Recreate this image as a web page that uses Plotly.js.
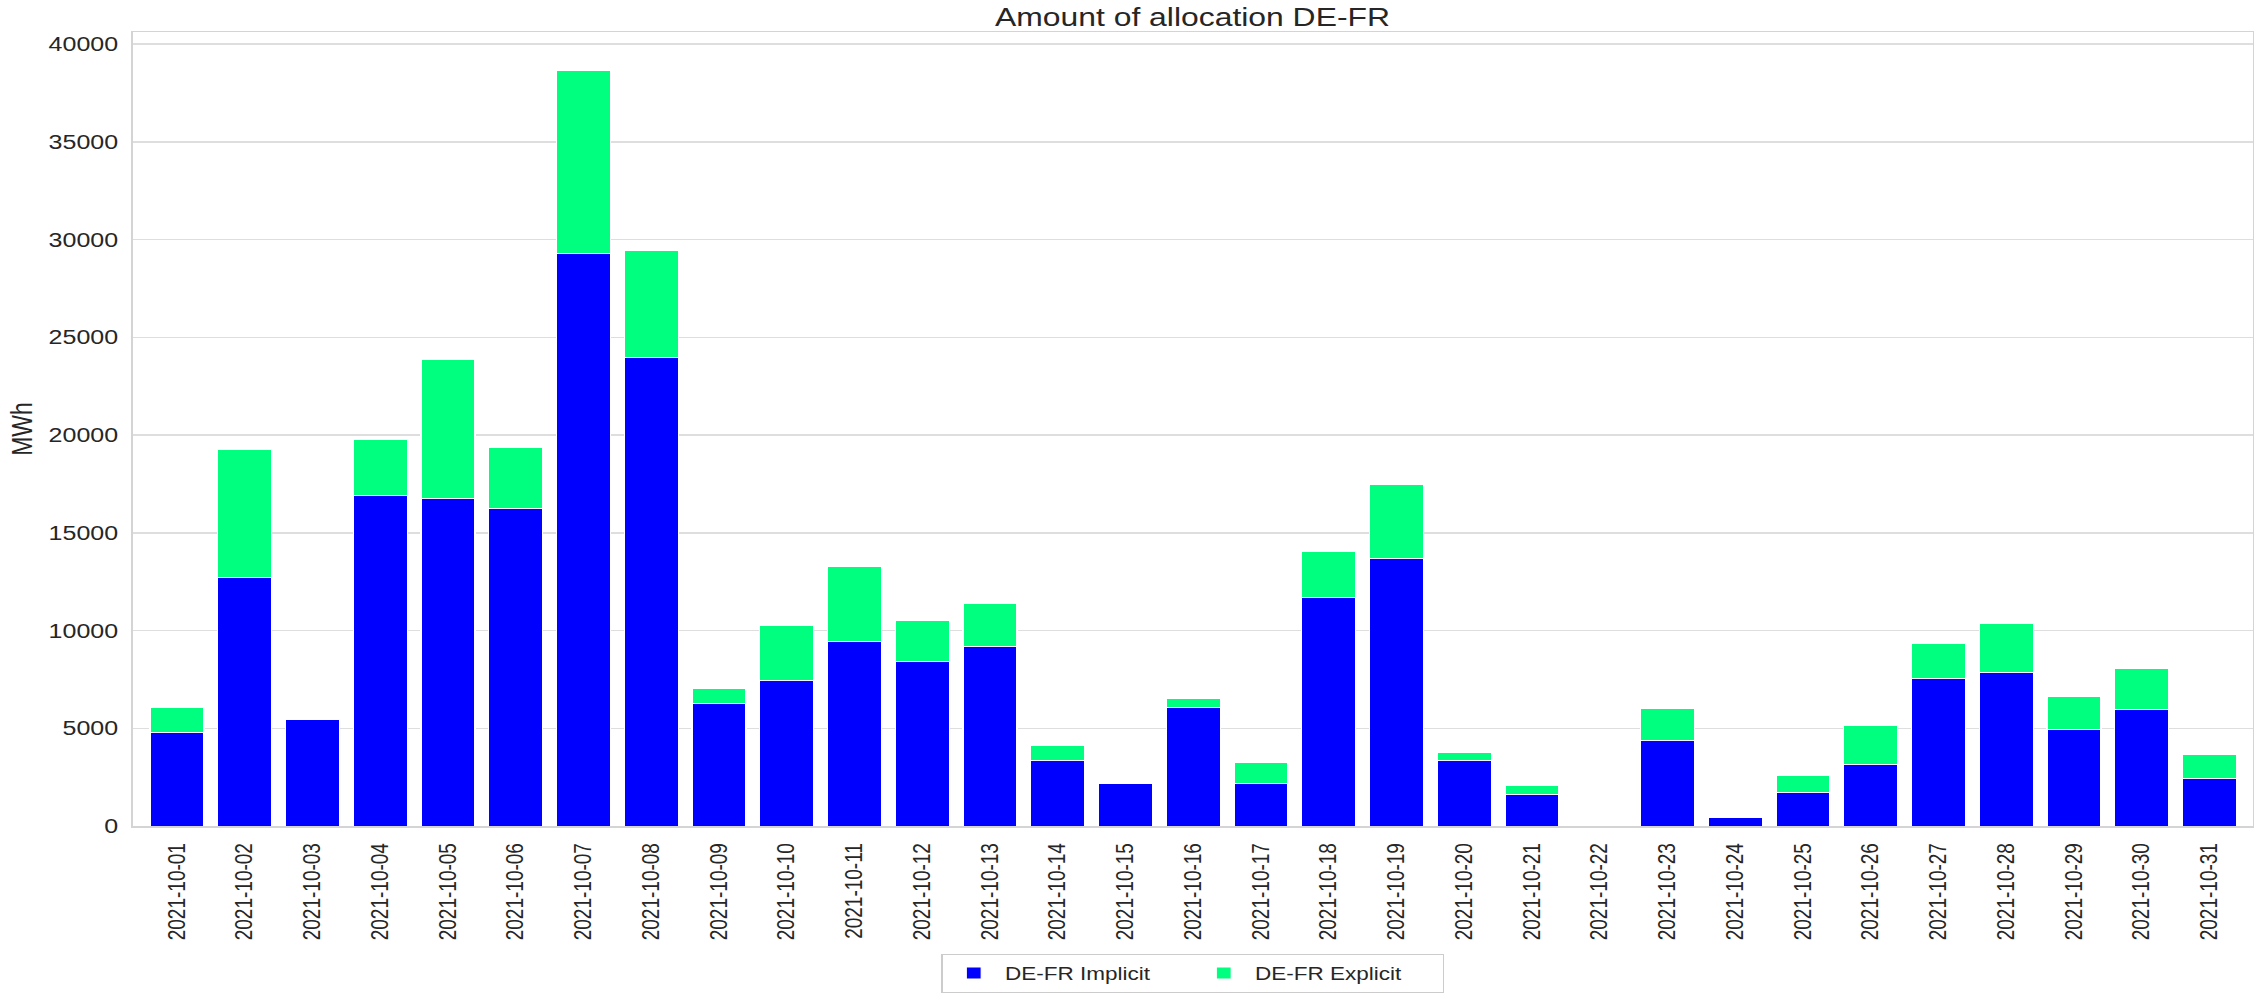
<!DOCTYPE html>
<html>
<head>
<meta charset="utf-8">
<script src="https://cdn.plot.ly/plotly-3.0.1.min.js"></script>
<style>
html,body{margin:0;padding:0;background:#fff;overflow:hidden;}
#chart{width:1807px;height:998px;transform:scaleX(1.25);transform-origin:0 0;}
</style>
</head>
<body>
<div id="chart"></div>
<script>
const dates = ["2021-10-01","2021-10-02","2021-10-03","2021-10-04","2021-10-05","2021-10-06","2021-10-07","2021-10-08","2021-10-09","2021-10-10","2021-10-11","2021-10-12","2021-10-13","2021-10-14","2021-10-15","2021-10-16","2021-10-17","2021-10-18","2021-10-19","2021-10-20","2021-10-21","2021-10-22","2021-10-23","2021-10-24","2021-10-25","2021-10-26","2021-10-27","2021-10-28","2021-10-29","2021-10-30","2021-10-31"];
const implicitMWh = [4800,12700,5450,16900,16750,16250,29300,23950,6250,7450,9450,8400,9200,3350,2150,6050,2200,11700,13700,3350,1600,0,4350,450,1700,3150,7550,7850,4950,5950,2450];
const explicitMWh = [1250,6550,0,2850,7100,3100,9360,5500,800,2800,3850,2100,2200,750,0,450,1050,2350,3750,400,450,0,1650,0,900,2000,1800,2500,1700,2100,1200];
const yTicks = [0,5000,10000,15000,20000,25000,30000,35000,40000];

const FONT = "Liberation Sans, Arial, Helvetica, sans-serif";
const TXT = "#262626";

const traces = [
  {type:"bar", name:"DE-FR Implicit", x:dates, y:implicitMWh,
   marker:{color:"#0000FF", line:{color:"#ffffff", width:1}}},
  {type:"bar", name:"DE-FR Explicit", x:dates, y:explicitMWh,
   marker:{color:"#00FF7F", line:{color:"#ffffff", width:1}}}
];

const layout = {
  width:1807, height:998,
  barmode:"stack", bargap:0.2,
  paper_bgcolor:"#ffffff", plot_bgcolor:"#ffffff",
  font:{family:FONT, color:TXT, size:18},
  margin:{l:106, r:5, t:32, b:159, pad:0},
  title:{text:"Amount of allocation DE-FR", font:{size:25.5, color:TXT, family:FONT},
         x:0.5, xref:"paper", xanchor:"center", y:0.9833, yref:"container", yanchor:"middle"},
  xaxis:{type:"category", range:[-0.657,30.635], tickangle:-90,
         tickfont:{size:19, color:TXT}, ticks:"outside", ticklen:8, tickcolor:"rgba(0,0,0,0)",
         showgrid:false, showline:true, mirror:true, linecolor:"#d4d4d4", linewidth:1.5,
         automargin:false, fixedrange:true},
  yaxis:{range:[0,40620], tickvals:yTicks, tickformat:"d",
         tickfont:{size:20, color:TXT}, ticks:"outside", ticklen:6, tickcolor:"rgba(0,0,0,0)",
         showgrid:true, gridcolor:"#dedede", gridwidth:1.5, zeroline:false,
         showline:true, mirror:true, linecolor:"#d4d4d4", linewidth:1.5,
         title:{text:"MWh", font:{size:23, color:TXT}, standoff:6},
         automargin:false, fixedrange:true},
  legend:{orientation:"h", x:0.5, xanchor:"center", y:-0.161, yanchor:"top",
          font:{size:18, color:TXT}, bordercolor:"#cccccc", borderwidth:1,
          bgcolor:"#ffffff", traceorder:"normal", itemwidth:40, entrywidth:145}
};

Plotly.newPlot("chart", traces, layout, {displayModeBar:false, staticPlot:true});
</script>
</body>
</html>
